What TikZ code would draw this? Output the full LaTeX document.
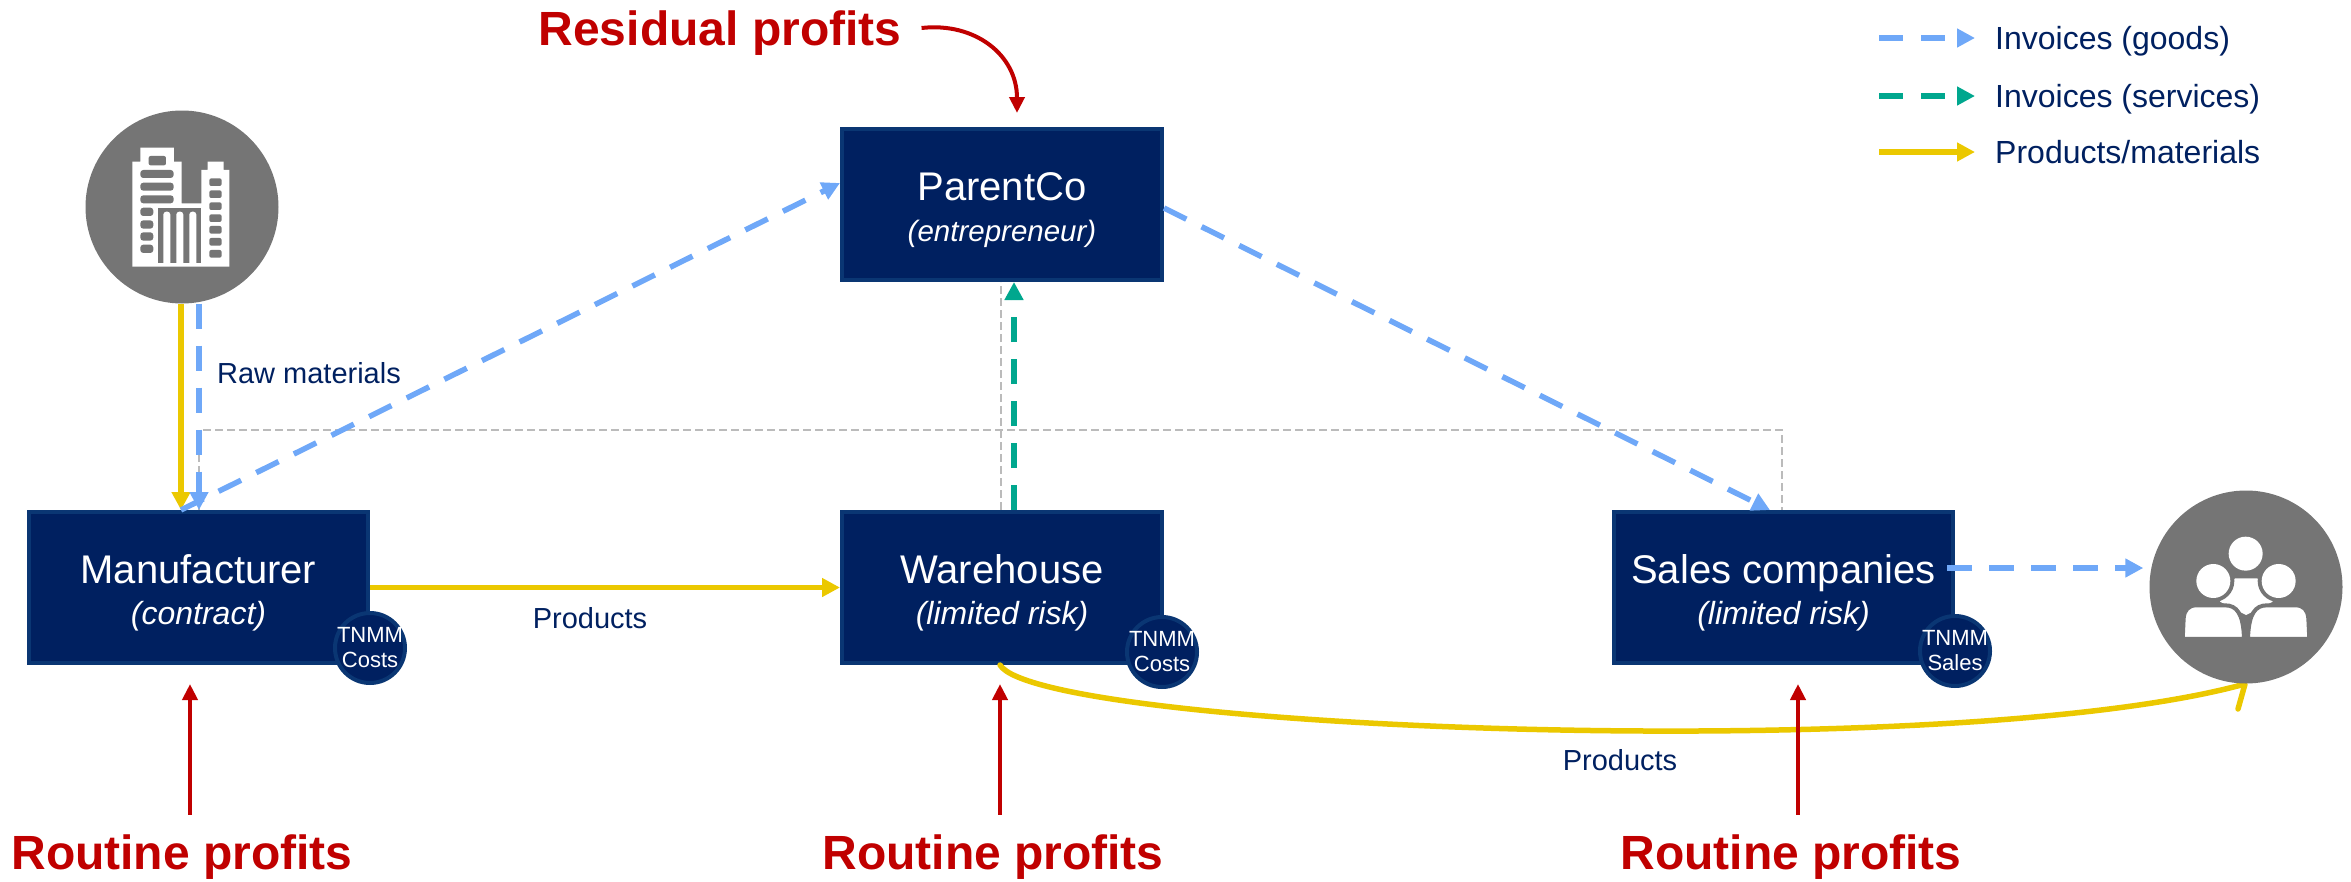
\documentclass[tikz,border=0pt]{standalone}
\usepackage{fontspec}
\setmainfont{Liberation Sans}
\usetikzlibrary{arrows.meta}
\definecolor{navy}{HTML}{002060}
\definecolor{navyline}{HTML}{0A3673}
\definecolor{invblue}{HTML}{6FA8F8}
\definecolor{invteal}{HTML}{00A78E}
\definecolor{goods}{HTML}{EBC800}
\definecolor{darkred}{HTML}{C00000}
\definecolor{icongray}{HTML}{757575}
\definecolor{busgray}{HTML}{BBBBBB}
\newcommand{\fsize}[1]{\fontsize{#1}{#1}\selectfont}
\tikzset{
  entity/.style={draw=navyline,fill=navy,line width=4pt,minimum height=151pt,inner sep=0pt},
  entitytext/.style={text=white,align=center,inner sep=0pt,font=\fsize{40}},
  badge/.style={circle,draw=navyline,fill=navy,line width=4pt,text=white,align=center,
    minimum size=70pt,inner sep=-8pt,font=\fontsize{22}{25}\selectfont},
  iconbg/.style={circle,fill=icongray,minimum size=193pt,inner sep=0pt},
  profit/.style={text=darkred,font=\bfseries\fsize{48},inner xsep=0pt,inner ysep=20pt},
  note/.style={text=navy,font=\fsize{29},inner sep=0pt},
  legendtext/.style={text=navy,font=\fsize{32},anchor=west,inner xsep=20pt,inner ysep=0pt,text depth=0pt},
  redarrow/.style={->,>={Triangle[length=16pt,width=15pt]},darkred,line width=4pt},
  flow/.style={->,line width=5.5pt},
  invoice/.style={flow,dash pattern=on 25pt off 17pt},
  bus/.style={busgray,line width=2pt,dash pattern=on 8pt off 4pt},
}
\begin{document}
\begin{tikzpicture}[x=1pt,y=-1pt,>={Triangle[length=18pt,width=18pt]}]
  \useasboundingbox (0,0) rectangle (2351,881);

  \coordinate (rawyel) at (181,0);
  \coordinate (rawblu) at (199,0);
  \coordinate (srvtl) at (1014,0);
  \coordinate (busl) at (199,430);
  \coordinate (busm) at (1001,430);
  \coordinate (busr) at (1782,430);
  \coordinate (parin) at (0,183);
  \coordinate (parout) at (0,208);
  \coordinate (salin) at (1770,0);
  \coordinate (salout) at (0,568);
  \coordinate (cstin) at (2245,684);
  \coordinate (cstbarb) at (2238,709);
  \coordinate (wrhout) at (1000,0);
  \coordinate (restip) at (1017,113);

  \node[iconbg] (bldg) at (182,207) {};
  \foreach \n/\x/\y/\w/\s/\a/\b in {manu/198.5/587.5/339/32/Manufacturer/(contract),
      wrh/1002/587.5/320/32/Warehouse/(limited risk),
      parent/1002/204.5/320/29.5/ParentCo/(entrepreneur),
      sal/1783.5/587.5/339/32/Sales companies/(limited risk)} {
      \node[entity,minimum width=\w pt] (\n) at (\x,\y) {};
      \node[entitytext] (\n txt) at ([yshift=-5.5pt]\n.center) {\a\\[1.5pt]{\fsize{\s}\itshape \b}};
    }

  \draw[bus] (manu.north -| busl) -- (busl) -- (busr) -- (sal.north -| busr);
  \draw[bus] (wrh.north -| busm) -- (parent.south -| busm);

  \draw[flow,goods] (rawyel |- bldg.south) -- (rawyel |- manu.north);
  \draw[invoice,invblue] (rawblu |- bldg.south) -- (rawblu |- manu.north);
  \draw[invoice,invblue] (rawyel |- manu.north) -- (parent.west |- parin);
  \draw[invoice,invblue] (parent.east |- parout) -- (salin |- sal.north);
  \draw[invoice,invteal] (srvtl |- wrh.north) -- (srvtl |- parent.south);
  \draw[flow,goods] (manu.east) -- (wrh.west);
  \draw[goods,line width=5.5pt,line cap=round,line join=round] (wrhout |- wrh.south)
    .. controls (1040,730) and (1950,765) .. (cstin) -- (cstbarb);

  \node[iconbg] (cust) at (2246,587) {};
  \draw[invoice,invblue] ([xshift=-8pt]sal.east |- salout) -- ([xshift=-6pt]cust.west |- salout);

  \node[badge] (tnmma) at (370,648) {TNMM\\Costs};
  \node[badge] (tnmmb) at (1162,652) {TNMM\\Costs};
  \node[badge] (tnmmc) at (1955,651) {TNMM\\Sales};

  \begin{scope}[shift={(60,100)},x=0.3333pt,y=-0.3333pt]
    \fill[white] (217,500) -- (217,185) -- (241,185) -- (241,143) -- (342,143) -- (342,185)
      -- (365,185) -- (365,310) -- (424,310) -- (424,210) -- (443,210) -- (443,185)
      -- (491,185) -- (491,210) -- (508,210) -- (508,500) -- cycle;
    \fill[icongray,rounded corners=2pt] (266,168) rectangle (318,196);
    \foreach \i in {210,248,286} {
        \fill[icongray,rounded corners=3pt] (241,\i) rectangle (341,\i+24);
      }
    \foreach \i in {323,361,397,434} {
        \fill[icongray,rounded corners=3pt] (241,\i) rectangle (280,\i+25);
      }
    \foreach \i in {235,271,307,343,378,414,450} {
        \fill[icongray,rounded corners=2pt] (448,\i) rectangle (485,\i+23);
      }
    \fill[icongray] (293,323) rectangle (424,490);
    \foreach \i in {310,349,388} {
        \fill[white,rounded corners=3pt] (\i,497) -- (\i,335) -- (\i+21,335) -- (\i+21,497) -- cycle;
      }
  \end{scope}

  \begin{scope}[shift={(2120,500)},x=0.3333pt,y=-0.3333pt]
    \fill[white] (300,305) -- (345,235) -- (412,235) -- (458,305) -- (378,345) -- cycle;
    \foreach \i in {280,476} {
        \fill[icongray] (\i,243) circle (21pt);
        \fill[white] (\i,243) circle (17pt);
      }
    \fill[white] (377,161) circle (17pt);
    \draw[icongray,fill=white,line width=4pt] (188,417) -- (191,355) .. controls (193,330) and (205,316) .. (230,316)
      -- (315,316) .. controls (350,316) and (370,340) .. (372,417) -- cycle;
    \draw[icongray,fill=white,line width=4pt] (568,417) -- (565,355) .. controls (563,330) and (551,316) .. (526,316)
      -- (441,316) .. controls (406,316) and (386,340) .. (384,417) -- cycle;
  \end{scope}

  \node[note] (rawlab) at (309,373) {Raw materials};
  \node[note] (prodlaba) at (590,618) {Products};
  \node[note] (prodlabb) at (1620,760) {Products};

  \node[profit] (resid) at (720,33) {Residual profits};
  \draw[redarrow] ([xshift=20pt,yshift=5pt]resid.east) .. controls (975,22) and (1017,55) .. (restip);
  \foreach \n/\x/\y in {manu/182/190,wrh/993/1000,sal/1791/1798} {
      \node[profit] (rt\n) at (\x,857.5) {Routine profits};
      \coordinate (tip\n) at (\y,684);
      \draw[redarrow] (tip\n |- rt\n.north) -- (tip\n);
    }

  \foreach \n/\y/\t in {a/38/{Invoices (goods)},b/96/{Invoices (services)},c/152/{Products/materials}} {
      \node[legendtext] (lg\n) at (1975,\y) {\t};
      \coordinate (lgs\n) at (1879,\y);
    }
  \draw[invoice,invblue,dash pattern=on 24pt off 18pt] (lgsa) -- (lga.west);
  \draw[invoice,invteal,dash pattern=on 24pt off 18pt] (lgsb) -- (lgb.west);
  \draw[flow,goods] (lgsc) -- (lgc.west);
\end{tikzpicture}
\end{document}
